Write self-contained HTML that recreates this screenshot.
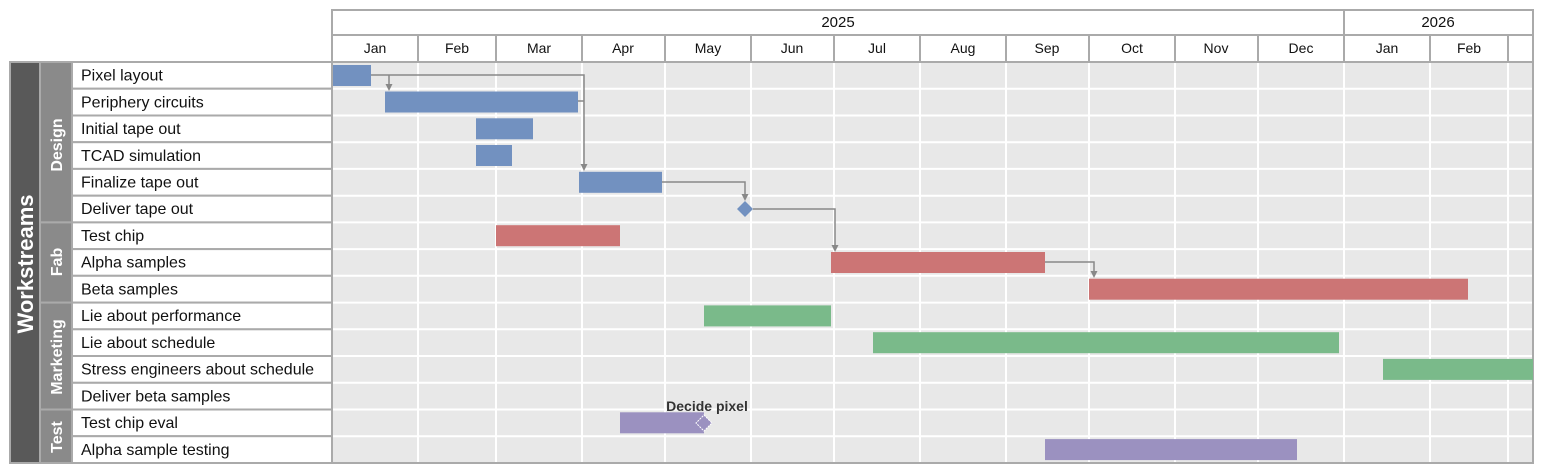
<!DOCTYPE html>
<html><head><meta charset="utf-8"><style>
html,body{margin:0;padding:0;background:#fff;}
svg{display:block;font-family:"Liberation Sans",Arial,sans-serif;}
</style></head><body>
<svg width="1544" height="474" viewBox="0 0 1544 474" xmlns="http://www.w3.org/2000/svg">
<rect x="332" y="62" width="1201" height="401" fill="#e8e8e8"/>
<g stroke="#fff" stroke-width="2">
<line x1="418" y1="62" x2="418" y2="463"/><line x1="496" y1="62" x2="496" y2="463"/>
<line x1="582" y1="62" x2="582" y2="463"/><line x1="665" y1="62" x2="665" y2="463"/>
<line x1="751" y1="62" x2="751" y2="463"/><line x1="834" y1="62" x2="834" y2="463"/>
<line x1="920" y1="62" x2="920" y2="463"/><line x1="1006" y1="62" x2="1006" y2="463"/>
<line x1="1089" y1="62" x2="1089" y2="463"/><line x1="1175" y1="62" x2="1175" y2="463"/>
<line x1="1258" y1="62" x2="1258" y2="463"/><line x1="1344" y1="62" x2="1344" y2="463"/>
<line x1="1430" y1="62" x2="1430" y2="463"/><line x1="1508" y1="62" x2="1508" y2="463"/>
<line x1="332" y1="88.7" x2="1533" y2="88.7"/><line x1="332" y1="115.5" x2="1533" y2="115.5"/>
<line x1="332" y1="142.2" x2="1533" y2="142.2"/><line x1="332" y1="168.9" x2="1533" y2="168.9"/>
<line x1="332" y1="195.7" x2="1533" y2="195.7"/><line x1="332" y1="222.4" x2="1533" y2="222.4"/>
<line x1="332" y1="249.1" x2="1533" y2="249.1"/><line x1="332" y1="275.8" x2="1533" y2="275.8"/>
<line x1="332" y1="302.6" x2="1533" y2="302.6"/><line x1="332" y1="329.3" x2="1533" y2="329.3"/>
<line x1="332" y1="356" x2="1533" y2="356"/><line x1="332" y1="382.8" x2="1533" y2="382.8"/>
<line x1="332" y1="409.5" x2="1533" y2="409.5"/><line x1="332" y1="436.2" x2="1533" y2="436.2"/>
</g>
<rect x="332" y="62" width="1201" height="401" fill="none" stroke="#aaa" stroke-width="2"/>

<g fill="#fff" stroke="#aaa" stroke-width="2">
<rect x="332" y="10" width="1012" height="25"/><rect x="1344" y="10" width="189" height="25"/>
<rect x="332" y="35" width="86" height="27"/><rect x="418" y="35" width="78" height="27"/>
<rect x="496" y="35" width="86" height="27"/><rect x="582" y="35" width="83" height="27"/>
<rect x="665" y="35" width="86" height="27"/><rect x="751" y="35" width="83" height="27"/>
<rect x="834" y="35" width="86" height="27"/><rect x="920" y="35" width="86" height="27"/>
<rect x="1006" y="35" width="83" height="27"/><rect x="1089" y="35" width="86" height="27"/>
<rect x="1175" y="35" width="83" height="27"/><rect x="1258" y="35" width="86" height="27"/>
<rect x="1344" y="35" width="86" height="27"/><rect x="1430" y="35" width="78" height="27"/>
<rect x="1508" y="35" width="25" height="27"/>
</g>
<g font-size="15" fill="#111" text-anchor="middle">
<text x="838" y="27">2025</text><text x="1438" y="27">2026</text>
</g>
<g font-size="14" fill="#111" text-anchor="middle">
<text x="375" y="53">Jan</text><text x="457" y="53">Feb</text><text x="539" y="53">Mar</text>
<text x="623" y="53">Apr</text><text x="708" y="53">May</text><text x="792" y="53">Jun</text>
<text x="877" y="53">Jul</text><text x="963" y="53">Aug</text><text x="1047" y="53">Sep</text>
<text x="1132" y="53">Oct</text><text x="1216" y="53">Nov</text><text x="1301" y="53">Dec</text>
<text x="1387" y="53">Jan</text><text x="1469" y="53">Feb</text>
</g>

<rect x="10" y="62" width="30" height="401" fill="#595959" stroke="#aaa" stroke-width="2"/>
<g fill="#8a8a8a" stroke="#aaa" stroke-width="2">
<rect x="40" y="62" width="32" height="160.4"/>
<rect x="40" y="222.4" width="32" height="80.2"/>
<rect x="40" y="302.6" width="32" height="106.9"/>
<rect x="40" y="409.5" width="32" height="53.5"/>
</g>
<g fill="#fff" stroke="#aaa" stroke-width="2">
<rect x="72" y="62" width="260" height="26.7"/><rect x="72" y="88.7" width="260" height="26.8"/>
<rect x="72" y="115.5" width="260" height="26.7"/><rect x="72" y="142.2" width="260" height="26.7"/>
<rect x="72" y="168.9" width="260" height="26.8"/><rect x="72" y="195.7" width="260" height="26.7"/>
<rect x="72" y="222.4" width="260" height="26.7"/><rect x="72" y="249.1" width="260" height="26.7"/>
<rect x="72" y="275.8" width="260" height="26.8"/><rect x="72" y="302.6" width="260" height="26.7"/>
<rect x="72" y="329.3" width="260" height="26.7"/><rect x="72" y="356" width="260" height="26.8"/>
<rect x="72" y="382.8" width="260" height="26.7"/><rect x="72" y="409.5" width="260" height="26.7"/>
<rect x="72" y="436.2" width="260" height="26.8"/>
</g>
<text transform="translate(33,264) rotate(-90)" text-anchor="middle" font-size="22" font-weight="bold" fill="#fff">Workstreams</text>
<g font-size="16" font-weight="bold" fill="#fff" text-anchor="middle">
<text transform="translate(62,145) rotate(-90)">Design</text>
<text transform="translate(62,262) rotate(-90)">Fab</text>
<text transform="translate(62,357) rotate(-90)">Marketing</text>
<text transform="translate(62,437) rotate(-90)">Test</text>
</g>
<g font-size="16" fill="#111">
<text x="81" y="80.6">Pixel layout</text>
<text x="81" y="107.3">Periphery circuits</text>
<text x="81" y="134">Initial tape out</text>
<text x="81" y="160.8">TCAD simulation</text>
<text x="81" y="187.5">Finalize tape out</text>
<text x="81" y="214.2">Deliver tape out</text>
<text x="81" y="240.9">Test chip</text>
<text x="81" y="267.7">Alpha samples</text>
<text x="81" y="294.4">Beta samples</text>
<text x="81" y="321.1">Lie about performance</text>
<text x="81" y="347.9">Lie about schedule</text>
<text x="81" y="374.6">Stress engineers about schedule</text>
<text x="81" y="401.3">Deliver beta samples</text>
<text x="81" y="428.1">Test chip eval</text>
<text x="81" y="454.8">Alpha sample testing</text>
</g>

<g fill="#7291c0">
<rect x="333" y="65" width="38" height="21"/>
<rect x="385" y="91.5" width="193" height="21"/>
<rect x="476" y="118.3" width="57" height="21"/>
<rect x="476" y="145" width="36" height="21"/>
<rect x="579" y="171.8" width="83" height="21"/>
<polygon points="745,201 753,209 745,217 737,209"/>
</g>
<g fill="#cc7575">
<rect x="496" y="225.2" width="124" height="21"/>
<rect x="831" y="252" width="214" height="21"/>
<rect x="1089" y="278.7" width="379" height="21"/>
</g>
<g fill="#7aba8a">
<rect x="704" y="305.4" width="127" height="21"/>
<rect x="873" y="332.2" width="466" height="21"/>
<rect x="1383" y="358.9" width="150" height="21"/>
</g>
<g fill="#9b91c0">
<rect x="620" y="412.3" width="84" height="21"/>
<rect x="1045" y="439.1" width="252" height="21"/>
<polygon points="704,415 712,423 704,431 696,423" stroke="#fff" stroke-width="1" stroke-dasharray="2,1"/>
</g>
<text x="707" y="411" font-size="14" font-weight="bold" fill="#333" text-anchor="middle">Decide pixel</text>

<g stroke="#888" stroke-width="1.5" fill="none">
<polyline points="371,75 584,75 584,164"/>
<polyline points="389,75 389,85"/>
<polyline points="578,101 584,101"/>
<polyline points="662,182 745,182 745,194"/>
<polyline points="753,209 835,209 835,246"/>
<polyline points="1045,262 1094,262 1094,272"/>
</g>
<g fill="#888">
<polygon points="385.5,84 392.5,84 389,91"/>
<polygon points="580.5,164 587.5,164 584,171"/>
<polygon points="741.5,194 748.5,194 745,201"/>
<polygon points="831.5,245 838.5,245 835,252"/>
<polygon points="1090.5,271 1097.5,271 1094,278"/>
</g>
</svg>
</body></html>
